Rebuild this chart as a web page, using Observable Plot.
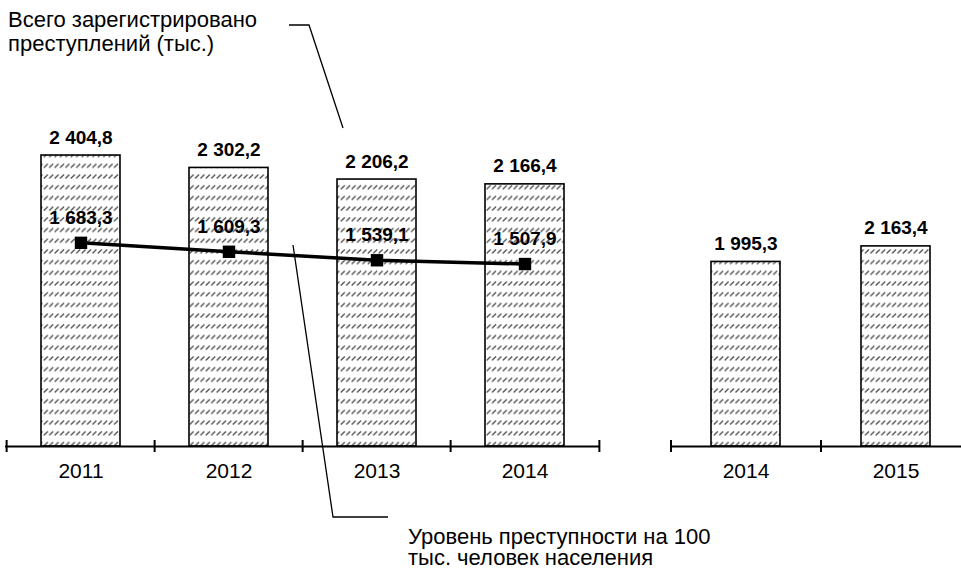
<!DOCTYPE html>
<html>
<head>
<meta charset="utf-8">
<script src="https://cdn.jsdelivr.net/npm/d3@7"></script>
<script src="https://cdn.jsdelivr.net/npm/@observablehq/plot@0.6"></script>
<style>
  html, body { margin: 0; padding: 0; background: #fff; }
  #wrap { position: relative; width: 961px; height: 571px; overflow: hidden; background: #fff;
          font-family: Arial, "Liberation Sans", sans-serif; color: #000; }
  #wrap > svg, #wrap > figure { position: absolute; top: 0; margin: 0; }
  .note { position: absolute; font-size: 22px; line-height: 24px; white-space: pre; color: #000; }
</style>
</head>
<body>
<div id="wrap"></div>
<script>
// ---- data ----
const yearsA  = ["2011", "2012", "2013", "2014"];
const crimesA = [2404.8, 2302.2, 2206.2, 2166.4];   // всего зарегистрировано преступлений, тыс.
const rateA   = [1683.3, 1609.3, 1539.1, 1507.9];   // уровень преступности на 100 тыс. населения
const yearsB  = ["2014", "2015"];
const crimesB = [1995.3, 2163.4];
const noteCrimes = "Всего зарегистрировано\nпреступлений (тыс.)";
const noteRate   = "Уровень преступности на 100\nтыс. человек населения";

const dataA = yearsA.map((year, i) => ({year, crimes: crimesA[i], rate: rateA[i]}));
const dataB = yearsB.map((year, i) => ({year, crimes: crimesB[i]}));

const fmt = v => d3.format(",.1f")(v).replace(/,/g, "\u00a0").replace(".", ",");
const FONT = "Arial, 'Liberation Sans', sans-serif";

function addHatch(svg, id) {
  const p = d3.select(svg).insert("defs", ":first-child")
    .append("pattern").attr("id", id).attr("patternUnits", "userSpaceOnUse")
    .attr("width", 5.4).attr("height", 10.7);
  p.append("rect").attr("width", 5.4).attr("height", 10.7).attr("fill", "#fff");
  p.append("path").attr("d", "M0.6,7.2 L4.6,3.4").attr("stroke", "#4a4a4a").attr("stroke-width", 1.3);
}

const wrap = document.getElementById("wrap");

// ---- left panel: 2011–2014 ----
const stepA = (600 - 5) / yearsA.length;
const chartA = Plot.plot({
  width: 605, height: 571,
  marginLeft: 5, marginRight: 5, marginTop: 0, marginBottom: 125,
  style: {background: "transparent", fontFamily: FONT, overflow: "visible"},
  x: {domain: yearsA, paddingInner: 0.469, paddingOuter: 0.2345, axis: null},
  y: {domain: [0, 446 / 0.121], axis: null},
  marks: [
    Plot.barY(dataA, {x: "year", y: "crimes", fill: "url(#hatchA)", stroke: "#000", strokeWidth: 1.6}),
    Plot.ruleY([0], {stroke: "#000", strokeWidth: 2}),
    Plot.ruleX(yearsA, {x: d => d, dx: -stepA / 2, stroke: "#000", strokeWidth: 2, insetTop: 440, insetBottom: -6}),
    Plot.ruleX(yearsA.slice(-1), {x: d => d, dx: stepA / 2, stroke: "#000", strokeWidth: 2, insetTop: 440, insetBottom: -6}),
    Plot.text(yearsA, {x: d => d, y: 0, dy: 25, lineAnchor: "middle", fontSize: 21, fill: "#000"}),
    Plot.line(dataA, {x: "year", y: "rate", stroke: "#000", strokeWidth: 3.5}),
    Plot.dot(dataA, {x: "year", y: "rate", symbol: "square", r: 7, fill: "#000", stroke: "none"}),
    Plot.text(dataA, {x: "year", y: "crimes", text: d => fmt(d.crimes), dy: -18, lineAnchor: "middle",
                      fontSize: 19, fontWeight: "bold", fill: "#000"}),
    Plot.text(dataA, {x: "year", y: "rate", text: d => fmt(d.rate), dy: -25, lineAnchor: "middle",
                      fontSize: 19, fontWeight: "bold", fill: "#000"})
  ]
});
addHatch(chartA, "hatchA");
chartA.style.left = "0px";
wrap.appendChild(chartA);

// ---- right panel: 2014–2015 ----
const stepB = 300 / yearsB.length;
const chartB = Plot.plot({
  width: 300, height: 571,
  marginLeft: 0, marginRight: 0, marginTop: 0, marginBottom: 125,
  style: {background: "transparent", fontFamily: FONT, overflow: "visible"},
  x: {domain: yearsB, paddingInner: 0.54, paddingOuter: 0.27, axis: null},
  y: {domain: [0, 446 / 0.0925], axis: null},
  marks: [
    Plot.barY(dataB, {x: "year", y: "crimes", fill: "url(#hatchB)", stroke: "#000", strokeWidth: 1.6}),
    Plot.ruleY([0], {stroke: "#000", strokeWidth: 2}),
    Plot.ruleX(yearsB, {x: d => d, dx: -stepB / 2, stroke: "#000", strokeWidth: 2, insetTop: 440, insetBottom: -6}),
    Plot.text(yearsB, {x: d => d, y: 0, dy: 25, lineAnchor: "middle", fontSize: 21, fill: "#000"}),
    Plot.text(dataB, {x: "year", y: "crimes", text: d => fmt(d.crimes), dy: -18, lineAnchor: "middle",
                      fontSize: 19, fontWeight: "bold", fill: "#000"})
  ]
});
addHatch(chartB, "hatchB");
chartB.style.left = "670px";
wrap.appendChild(chartB);

// ---- annotations ----
const n1 = document.createElement("div");
n1.className = "note"; n1.textContent = noteCrimes;
n1.style.left = "8px"; n1.style.top = "8px";
wrap.appendChild(n1);
const n2 = document.createElement("div");
n2.className = "note"; n2.textContent = noteRate;
n2.style.left = "408px"; n2.style.top = "526px"; n2.style.lineHeight = "21px";
wrap.appendChild(n2);

const lead = d3.select(wrap).append("svg")
  .attr("width", 961).attr("height", 571)
  .style("position", "absolute").style("left", "0px").style("top", "0px").style("pointer-events", "none");
lead.append("polyline").attr("points", "289,25 309,25 343,128")
  .attr("fill", "none").attr("stroke", "#000").attr("stroke-width", 1.3);
lead.append("polyline").attr("points", "293,245 333,517 388,517")
  .attr("fill", "none").attr("stroke", "#000").attr("stroke-width", 1.3);
</script>
</body>
</html>
